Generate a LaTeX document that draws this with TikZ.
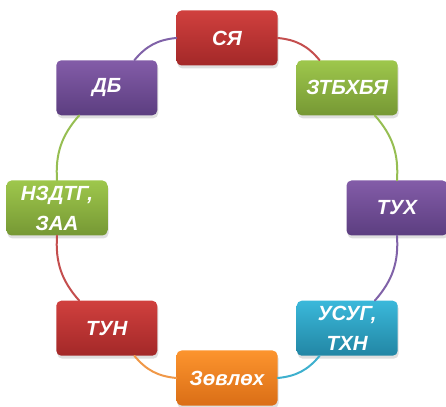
\documentclass[tikz,border=0pt]{standalone}
\usepackage{fontspec}
\setmainfont{Liberation Sans}
\usetikzlibrary{shadows}
\definecolor{redtop}{RGB}{208,64,62}
\definecolor{redbot}{RGB}{163,40,40}
\definecolor{redline}{RGB}{196,78,78}
\definecolor{greentop}{RGB}{158,199,76}
\definecolor{greenbot}{RGB}{118,152,52}
\definecolor{greenline}{RGB}{150,190,82}
\definecolor{purpletop}{RGB}{131,92,168}
\definecolor{purplebot}{RGB}{92,62,128}
\definecolor{purpleline}{RGB}{128,98,168}
\definecolor{bluetop}{RGB}{58,184,218}
\definecolor{bluebot}{RGB}{34,134,164}
\definecolor{blueline}{RGB}{62,176,206}
\definecolor{orangetop}{RGB}{252,148,46}
\definecolor{orangebot}{RGB}{218,110,22}
\definecolor{orangeline}{RGB}{240,152,72}
\begin{document}
\begin{tikzpicture}[x=1pt, y=1pt, line join=round, line cap=round]

		\tikzset{box style/.style={rounded corners=5pt, minimum width=101pt, minimum height=55pt, inner sep=2pt, text=white, align=center, font=\fontsize{20.5}{30}\selectfont\bfseries\itshape, drop shadow={opacity=.25, shadow xshift=1pt, shadow yshift=-3pt}},
			ring style/.style={line width=2pt}}

		\useasboundingbox (0,0) rectangle (446,406);
		\foreach \n/\a/\c/\t in {sy/90/red/{СЯ}, ztb/45/green/{ЗТБХБЯ}, tux/0/purple/{ТУХ}, usug/-45/blue/{УСУГ,\\ТХН}, zov/-90/orange/{Зөвлөх}, tun/-135/red/{ТУН}, nzd/180/green/{НЗДТГ,\\ЗАА}, db/135/purple/{ДБ}}
		\node[box style, top color=\c top, bottom color=\c bot] (\n) at ([shift={(227,198)}]\a:170) {\t};
		\foreach \p/\q/\c in {sy/ztb/red, ztb/tux/green, tux/usug/purple, usug/zov/blue, zov/tun/orange, tun/nzd/red, nzd/db/green, db/sy/purple}
		\draw[ring style, \c line] (\p) to[bend left=22.5] (\q);
		\end{tikzpicture}
\end{document}
